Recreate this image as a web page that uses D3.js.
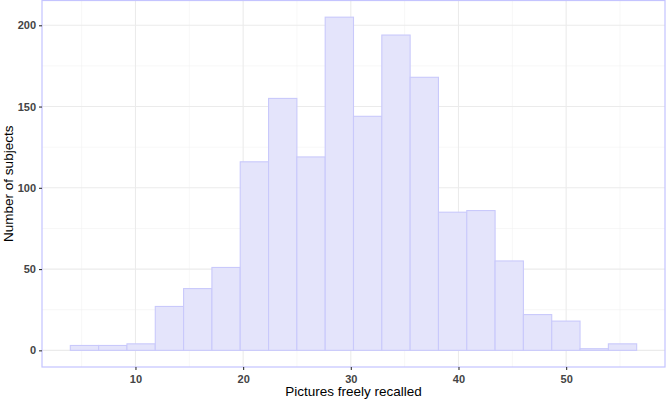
<!DOCTYPE html>
<html><head><meta charset="utf-8">
<script src="https://cdn.jsdelivr.net/npm/d3@7"></script>
<style>body{margin:0;background:#fff}svg{display:block}text{font-family:"Liberation Sans",Arial,sans-serif}</style>
</head><body><svg id="c" width="666" height="403"></svg>
<script>
const binStart = 3.95;
const binWidth = 2.63;
const counts = [3,3,4,27,38,51,116,155,119,205,144,194,168,85,86,55,22,18,1,4];
const xTicks = [10,20,30,40,50];
const yTicks = [0,50,100,150,200];

const svg = d3.select("#c");
const L=42, R=665, T=0.5, B=367;
const bins = counts.map((c,i)=>({x0:binStart+i*binWidth, x1:binStart+(i+1)*binWidth, n:c}));
const xmin=bins[0].x0, xmax=bins[bins.length-1].x1, xs=(xmax-xmin)*0.05;
const ymax=d3.max(counts), ys=ymax*0.05;
const x=d3.scaleLinear().domain([xmin-xs,xmax+xs]).range([L,R]);
const y=d3.scaleLinear().domain([-ys,ymax+ys]).range([B,T]);

const g=svg.append("g");
const xMinor=xTicks.map(t=>t-5).concat([55]).filter(v=>x(v)>L&&x(v)<R);
const yMinor=[25,75,125,175];
g.selectAll(".xm").data(xMinor).enter().append("line").attr("x1",d=>x(d)).attr("x2",d=>x(d)).attr("y1",T).attr("y2",B).attr("stroke","#f2f2f2").attr("stroke-width",0.6);
g.selectAll(".ym").data(yMinor).enter().append("line").attr("y1",d=>y(d)).attr("y2",d=>y(d)).attr("x1",L).attr("x2",R).attr("stroke","#f2f2f2").attr("stroke-width",0.6);
g.selectAll(".xg").data(xTicks).enter().append("line").attr("x1",d=>x(d)).attr("x2",d=>x(d)).attr("y1",T).attr("y2",B).attr("stroke","#ebebeb").attr("stroke-width",1.1);
g.selectAll(".yg").data(yTicks).enter().append("line").attr("y1",d=>y(d)).attr("y2",d=>y(d)).attr("x1",L).attr("x2",R).attr("stroke","#ebebeb").attr("stroke-width",1.1);

g.selectAll(".bar").data(bins).enter().append("rect")
 .attr("x",d=>x(d.x0)).attr("width",d=>x(d.x1)-x(d.x0))
 .attr("y",d=>y(d.n)).attr("height",d=>y(0)-y(d.n))
 .attr("fill","#e4e4fb").attr("stroke","#c9c9fb").attr("stroke-width",1.1);

svg.append("rect").attr("x",L).attr("y",T).attr("width",R-L).attr("height",B-T)
 .attr("fill","none").attr("stroke","#c4c4ff").attr("stroke-width",1.2);

const xa=svg.append("g").attr("transform",`translate(0,${B})`)
 .call(d3.axisBottom(x).tickValues(xTicks).tickSize(3).tickPadding(3));
const ya=svg.append("g").attr("transform",`translate(${L},0)`)
 .call(d3.axisLeft(y).tickValues(yTicks).tickSize(3).tickPadding(3));
[xa,ya].forEach(a=>{a.select(".domain").remove();
 a.selectAll(".tick line").attr("stroke","#333").attr("stroke-width",1.1);
 a.selectAll(".tick text").attr("fill","#444").style("font-size","11px").style("font-weight","bold");});
xa.selectAll(".tick text").attr("dy","0.9em");

svg.append("text").attr("x",(L+R)/2).attr("y",396).attr("text-anchor","middle")
 .style("font-size","13.5px").attr("fill","#000").text("Pictures freely recalled");
svg.append("text").attr("transform",`translate(12.5,${(T+B)/2}) rotate(-90)`).attr("text-anchor","middle")
 .style("font-size","13.5px").attr("fill","#000").text("Number of subjects");
</script></body></html>
